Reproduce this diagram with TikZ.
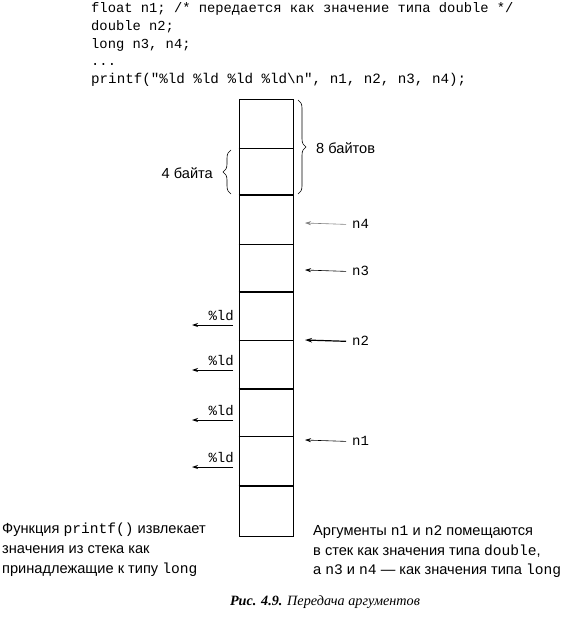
\documentclass[tikz,border=0pt]{standalone}
\usepackage{fontspec}
\setmainfont{Liberation Serif}
\setsansfont{Liberation Sans}
\setmonofont{Liberation Mono}
\usetikzlibrary{decorations.pathreplacing,arrows.meta}
\begin{document}
\begin{tikzpicture}[x=1pt,y=-1pt,
  code/.style={anchor=base west,inner sep=0pt,font=\fontsize{13.8}{15}\ttfamily},
  lbl/.style={anchor=base west,inner sep=0pt,font=\fontsize{14}{15}\ttfamily},
  note/.style={anchor=base west,inner sep=0pt,font=\fontsize{14.6}{16}\sffamily},
  arr/.style={-{Stealth[length=6pt,width=4pt]},line width=0.6pt},
  thickarr/.style={-{Stealth[length=7pt,width=4.5pt]},line width=1.2pt},
  thin/.style={line width=0.8pt},
  thk/.style={line width=2pt},
  brace/.style={decorate,decoration={brace,amplitude=8pt},line width=0.6pt}]
\useasboundingbox (0,0) rectangle (570,620);
% code
\node[code] (c1) at (91,13) {float n1; /* передается как значение типа double */};
\node[code] (c2) at (91,31) {double n2;};
\node[code] (c3) at (91,49) {long n3, n4;};
\node[code] (c4) at (91,66) {...};
\node[code,font=\fontsize{14.2}{15}\ttfamily] (c5) at (91,84) {printf("\%ld \%ld \%ld \%ld\textbackslash n", n1, n2, n3, n4);};
% stack
\node[draw,thin,minimum width=54pt,minimum height=436pt,inner sep=0pt,anchor=north west] (stack) at (238.5,99.5) {};
\foreach \y in {148,244,340,436} \draw[thin] (238.5,\y) -- (292.5,\y);
\foreach \y in {195,292,389,486} \draw[thk] (238.5,\y) -- (292.5,\y);
% braces
\coordinate (rb1) at (298,100);
\coordinate (rb2) at (298,194);
\draw[brace] (rb1) -- (rb2);
\node[anchor=west,inner sep=0pt,font=\fontsize{14.6}{16}\sffamily] (b8) at (316,148) {8 байтов};
\coordinate (lb1) at (231,194);
\coordinate (lb2) at (231,150);
\draw[brace] (lb1) -- (lb2);
\node[anchor=east,inner sep=0pt,font=\fontsize{14.6}{16}\sffamily] (b4) at (213,173) {4 байта};
% right labels
\node[lbl] (n4) at (352,228) {n4};
\node[lbl] (n3) at (352,275) {n3};
\node[lbl] (n2) at (352,345) {n2};
\node[lbl] (n1) at (352,445) {n1};
\coordinate (t4) at (305,223);
\coordinate (t3) at (305,270);
\coordinate (t2) at (305,340);
\coordinate (t1) at (305,440);
\draw[arr,gray] ([xshift=-6pt,yshift=-1pt]n4.west) -- (t4);
\draw[arr] ([xshift=-6pt,yshift=-1pt]n3.west) -- (t3);
\draw[thickarr] ([xshift=-6pt,yshift=-1pt]n2.west) -- (t2);
\draw[arr] ([xshift=-6pt,yshift=-1pt]n1.west) -- (t1);
% left labels
\foreach \i/\y in {1/325,2/370,3/420,4/467}{
  \node[lbl,anchor=base east] (p\i) at (234,\y-5) {\%ld};
  \coordinate (s\i) at (233,\y);
  \coordinate (e\i) at (192,\y);
  \draw[arr,line width=0.9pt] (s\i) -- (e\i);
}
% notes
\node[note] (l1) at (2,533) {Функция \texttt{printf()} извлекает};
\node[note] (l2) at (2,553) {значения из стека как};
\node[note] (l3) at (2,573) {принадлежащие к типу \texttt{long}};
\node[note] (r1) at (313,535) {Аргументы \texttt{n1} и \texttt{n2} помещаются};
\node[note] (r2) at (313,555) {в стек как значения типа \texttt{double},};
\node[note] (r3) at (313,574) {а \texttt{n3} и \texttt{n4} — как значения типа \texttt{long}};
% caption
\node[anchor=base,inner sep=0pt,font=\fontsize{14.2}{16}\rmfamily\itshape] (cap) at (325,605) {\textbf{Рис. 4.9.} Передача аргументов};
\end{tikzpicture}
\end{document}
